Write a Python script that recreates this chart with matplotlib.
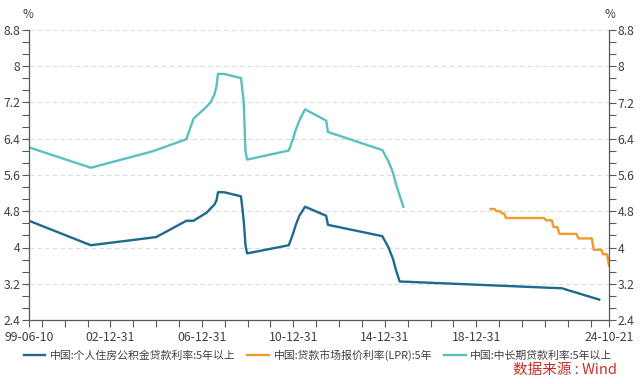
import numpy as np
import pandas as pd
import matplotlib
matplotlib.use('Agg')
import matplotlib.pyplot as plt
import matplotlib.dates as mdates
from matplotlib.ticker import FixedLocator, FuncFormatter

plt.rcParams['font.family'] = ['Noto Sans CJK SC', 'DejaVu Sans']
plt.rcParams['axes.unicode_minus'] = False

# 中国:个人住房公积金贷款利率:5年以上 (change points)
GJJ_DATES = ['1999-06-10', '2002-02-21', '2005-01-01', '2006-04-28', '2006-08-19',
             '2007-03-18', '2007-05-19', '2007-07-21', '2007-08-22', '2007-09-15',
             '2007-12-21', '2008-09-16', '2008-10-09', '2008-10-30', '2008-11-27',
             '2008-12-23', '2010-10-20', '2010-12-26', '2011-02-09', '2011-04-06',
             '2011-07-07', '2012-06-08', '2012-07-06', '2014-11-22', '2015-03-01',
             '2015-05-11', '2015-06-28', '2015-08-26', '2022-10-01', '2024-05-18']
GJJ_VALUES = [4.59, 4.05, 4.23, 4.59, 4.59,
              4.77, 4.86, 4.95, 5.04, 5.22,
              5.22, 5.13, 4.86, 4.59, 4.05,
              3.87, 4.05, 4.30, 4.50, 4.70,
              4.90, 4.70, 4.50, 4.25, 4.00,
              3.75, 3.50, 3.25, 3.10, 2.85]

# 中国:中长期贷款利率:5年以上 (change points)
LOAN_DATES = ['1999-06-10', '2002-02-21', '2004-10-29', '2006-04-28', '2006-08-19',
              '2007-03-18', '2007-05-19', '2007-07-21', '2007-08-22', '2007-09-15',
              '2007-12-21', '2008-09-16', '2008-10-09', '2008-10-30', '2008-11-27',
              '2008-12-23', '2010-10-20', '2010-12-26', '2011-02-09', '2011-04-06',
              '2011-07-07', '2012-06-08', '2012-07-06', '2014-11-22', '2015-03-01',
              '2015-05-11', '2015-06-28', '2015-08-26', '2015-10-24']
LOAN_VALUES = [6.21, 5.76, 6.12, 6.39, 6.84,
               7.11, 7.20, 7.38, 7.56, 7.83,
               7.83, 7.74, 7.47, 7.20, 6.12,
               5.94, 6.14, 6.40, 6.60, 6.80,
               7.05, 6.80, 6.55, 6.15, 5.90,
               5.65, 5.40, 5.15, 4.90]

# 中国:贷款市场报价利率(LPR):5年 (monthly, 2019-08 .. 2024-10)
LPR_START, LPR_END = '2019-08', '2024-10'
LPR_VALUES = [4.85, 4.85, 4.85, 4.80, 4.80,
              4.80, 4.75, 4.75, 4.65, 4.65, 4.65, 4.65, 4.65, 4.65, 4.65, 4.65, 4.65,
              4.65, 4.65, 4.65, 4.65, 4.65, 4.65, 4.65, 4.65, 4.65, 4.65, 4.65, 4.65,
              4.60, 4.60, 4.60, 4.60, 4.45, 4.45, 4.45, 4.30, 4.30, 4.30, 4.30, 4.30,
              4.30, 4.30, 4.30, 4.30, 4.30, 4.20, 4.20, 4.20, 4.20, 4.20, 4.20, 4.20,
              4.20, 3.95, 3.95, 3.95, 3.95, 3.95, 3.85, 3.85, 3.85, 3.60]

X_START, X_END = '1999-06-10', '2024-10-21'
X_LABEL_DATES = ['1999-06-10', '2002-12-31', '2006-12-31', '2010-12-31',
                 '2014-12-31', '2018-12-31', '2024-10-21']

LABELS = ['中国:个人住房公积金贷款利率:5年以上',
          '中国:贷款市场报价利率(LPR):5年',
          '中国:中长期贷款利率:5年以上']
COLORS = ['#1f6a8c', '#f29a2e', '#5cbfbf']

AX_COLOR = '#595959'
TEXT_COLOR = '#404040'

gjj_x = pd.to_datetime(GJJ_DATES)
loan_x = pd.to_datetime(LOAN_DATES)
lpr_x = pd.period_range(LPR_START, LPR_END, freq='M').to_timestamp() + pd.Timedelta(days=19)
lpr_x = lpr_x[:-1].append(pd.DatetimeIndex([pd.Timestamp(X_END)]))

fig = plt.figure(figsize=(6.4, 3.84), dpi=100)
ax = fig.add_axes([29 / 640, 1 - 320 / 384, 580 / 640, 290 / 384])

l1, = ax.plot(gjj_x, GJJ_VALUES, color=COLORS[0], lw=1.7, label=LABELS[0])
l2, = ax.plot(lpr_x, LPR_VALUES, color=COLORS[1], lw=1.7, label=LABELS[1])
l3, = ax.plot(loan_x, LOAN_VALUES, color=COLORS[2], lw=1.7, label=LABELS[2])

ax.set_xlim(pd.Timestamp(X_START), pd.Timestamp(X_END))
ax.set_ylim(2.4, 8.8)

major_y = np.linspace(2.4, 8.8, 9)
minor_y = np.linspace(2.4, 8.8, 25)
fmt = FuncFormatter(lambda v, p: f'{v:.1f}'.rstrip('0').rstrip('.'))

ax.xaxis.set_major_locator(FixedLocator(mdates.date2num(pd.to_datetime(X_LABEL_DATES))))
ax.xaxis.set_major_formatter(mdates.DateFormatter('%y-%m-%d'))
ax.xaxis.set_minor_locator(mdates.YearLocator(base=1, month=12, day=31))

ax2 = ax.twinx()
ax2.set_ylim(2.4, 8.8)
for a in (ax, ax2):
    a.yaxis.set_major_locator(FixedLocator(major_y))
    a.yaxis.set_minor_locator(FixedLocator(minor_y))
    a.yaxis.set_major_formatter(fmt)
    for s in a.spines.values():
        s.set_visible(False)
    a.tick_params(which='both', direction='out', length=5, width=0.8,
                  color=AX_COLOR, labelcolor=TEXT_COLOR, labelsize=8.8, pad=1)

ax.spines['left'].set_visible(True)
ax.spines['bottom'].set_visible(True)
ax2.spines['right'].set_visible(True)
for s in (ax.spines['left'], ax.spines['bottom'], ax2.spines['right']):
    s.set_color(AX_COLOR)
    s.set_linewidth(0.9)
ax.tick_params(axis='x', pad=3)

ax.grid(axis='y', which='major', color='#dcdcdc', linestyle=(0, (4, 3)), linewidth=0.8)
ax.set_axisbelow(True)

fig.text(28 / 640, 1 - 14 / 384, '%', ha='center', va='center', fontsize=8.5, color=TEXT_COLOR)
fig.text(610 / 640, 1 - 14 / 384, '%', ha='center', va='center', fontsize=8.5, color=TEXT_COLOR)

fig.legend(handles=[l1, l2, l3], loc='center', bbox_to_anchor=(318 / 640, 1 - 355 / 384),
           ncol=3, frameon=False, fontsize=7.8, handlelength=2.0, handletextpad=0.4,
           columnspacing=1.1, labelcolor=TEXT_COLOR)

fig.text(617 / 640, 1 - 370 / 384, '数据来源 : Wind', ha='right', va='center',
         fontsize=10.5, color='#c9302c')

fig.savefig('out.png', dpi=100, facecolor='white')
